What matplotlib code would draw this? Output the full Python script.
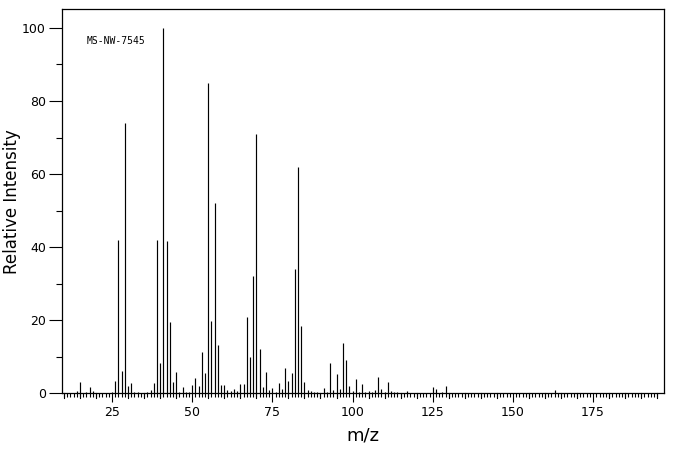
import matplotlib
matplotlib.use("Agg")
import matplotlib.pyplot as plt
import numpy as np
from matplotlib.ticker import MultipleLocator

# peak list (m/z, relative intensity)
MZ = [14, 15, 17, 18, 19, 25, 26, 27, 28, 29, 30, 31, 32, 33, 36, 37, 38, 39,
      40, 41, 42, 43, 44, 45, 46, 47, 48, 49, 50, 51, 52, 53, 54, 55, 56, 57,
      58, 59, 60, 61, 62, 63, 64, 65, 66, 67, 68, 69, 70, 71, 72, 73, 74, 75,
      76, 77, 78, 79, 80, 81, 82, 83, 84, 85, 86, 87, 88, 89, 91, 92, 93, 94,
      95, 96, 97, 98, 99, 100, 101, 102, 103, 104, 105, 106, 107, 108, 109,
      110, 111, 112, 113, 114, 117, 125, 126, 128, 129, 163]
INTENSITY = [0.6, 3.1, 0.4, 1.7, 0.6, 0.4, 3.4, 42.0, 6.1, 73.9, 2.0, 2.8, 0.4,
             0.4, 0.4, 0.9, 2.8, 42.0, 8.4, 100.0, 41.8, 19.6, 3.0, 5.9, 0.3,
             1.6, 0.4, 0.4, 2.2, 4.3, 1.9, 11.3, 5.6, 85.0, 19.9, 52.2, 13.3,
             2.3, 2.3, 0.9, 0.6, 1.1, 0.6, 2.6, 2.6, 21.0, 10.0, 32.0, 70.9,
             12.2, 1.7, 5.9, 0.9, 1.5, 0.4, 2.8, 1.2, 7.0, 3.4, 5.6, 34.0,
             61.8, 18.3, 3.1, 0.9, 0.6, 0.4, 0.4, 1.5, 0.4, 8.3, 0.9, 5.3, 1.2,
             13.9, 9.2, 2.0, 0.6, 3.9, 0.4, 2.6, 0.4, 0.6, 0.4, 0.9, 4.5, 1.2,
             0.4, 3.1, 0.6, 0.4, 0.4, 0.5, 1.8, 1.1, 0.4, 2.1, 0.9]
XTICKS = [25, 50, 75, 100, 125, 150, 175]
YTICKS = [0, 20, 40, 60, 80, 100]
LABEL = "MS-NW-7545"

fig = plt.figure(figsize=(6.76, 4.55), dpi=100)
ax = fig.add_axes([0.0917, 0.1356, 0.891, 0.844])

ax.vlines(MZ, 0, INTENSITY, color="black", linewidth=0.85)

ax.set_xlim(9.4, 197.2)
ax.set_ylim(0, 105.1)

ax.set_xticks(XTICKS)
ax.set_xticks(np.arange(10, 196, 1), minor=True)
ax.set_yticks(YTICKS)
ax.yaxis.set_minor_locator(MultipleLocator(10))

ax.tick_params(axis="x", which="major", length=6.5, width=0.8, labelsize=9, pad=3)
ax.tick_params(axis="x", which="minor", length=3, width=0.8)
ax.tick_params(axis="y", which="major", length=9.5, width=0.8, labelsize=9, pad=2)
ax.tick_params(axis="y", which="minor", length=4.5, width=0.8)

# every fifth unit gets a slightly longer tick
for t in range(10, 196, 5):
    if t % 25:
        ax.plot([t, t], [0, -1.35], color="black", linewidth=0.8, clip_on=False)

for s in ax.spines.values():
    s.set_linewidth(0.9)

ax.set_xlabel("m/z", fontsize=13, labelpad=5)
ax.set_ylabel("Relative Intensity", fontsize=12, labelpad=1)

ax.text(17.2, 96.4, LABEL, family="DejaVu Sans Mono", fontsize=7,
        ha="left", va="center")

fig.savefig("out.png", dpi=100, facecolor="white")
